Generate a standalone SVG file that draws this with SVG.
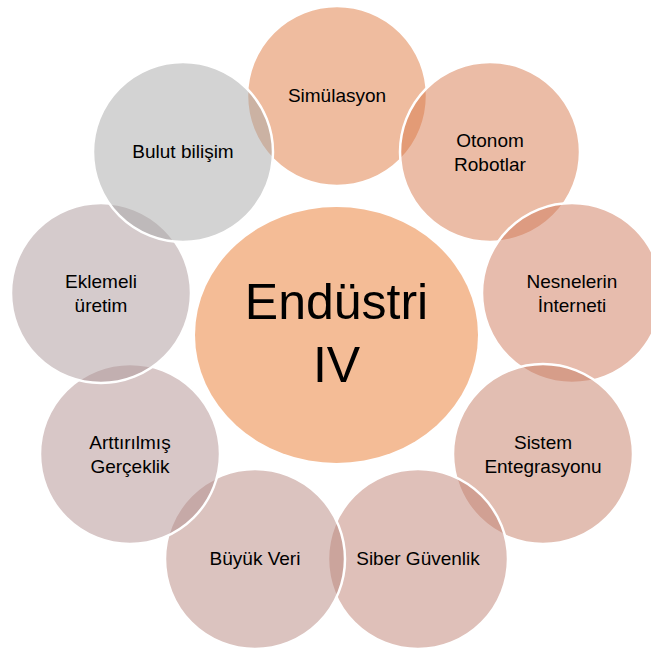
<svg xmlns="http://www.w3.org/2000/svg" width="651" height="651" viewBox="0 0 651 651">
<style>
.c{stroke:#FFFFFF;stroke-width:2.5;fill-opacity:0.5}
.t{font-family:"Liberation Sans",Arial,sans-serif;font-size:19px;fill:#000;text-anchor:middle}
.big{font-family:"Liberation Sans",Arial,sans-serif;font-size:50px;fill:#000;text-anchor:middle}
</style>
<rect width="651" height="651" fill="#FFFFFF"/>
<g id="center">
<ellipse cx="336.5" cy="335" rx="141.5" ry="128" fill="#F4BC96"/>
<text class="big" x="336.5" y="319">Endüstri</text>
<text class="big" x="336.5" y="382">IV</text>
</g>
<g id="simulasyon">
<circle class="c" cx="337" cy="96" r="90" fill="#DF793F"/>
<text class="t" x="337" y="102">Simülasyon</text>
</g>
<g id="otonom-robotlar">
<circle class="c" cx="490" cy="152" r="90" fill="#D7794D"/>
<text class="t" x="490" y="147">Otonom</text>
<text class="t" x="490" y="171">Robotlar</text>
</g>
<g id="nesnelerin-interneti">
<circle class="c" cx="572" cy="293" r="90" fill="#CF795B"/>
<text class="t" x="572" y="288">Nesnelerin</text>
<text class="t" x="572" y="312">İnterneti</text>
</g>
<g id="sistem-entegrasyonu">
<circle class="c" cx="543" cy="454" r="90" fill="#C57D65"/>
<text class="t" x="543" y="449">Sistem</text>
<text class="t" x="543" y="473">Entegrasyonu</text>
</g>
<g id="siber-guvenlik">
<circle class="c" cx="418" cy="559" r="90" fill="#BF8173"/>
<text class="t" x="418" y="565">Siber Güvenlik</text>
</g>
<g id="buyuk-veri">
<circle class="c" cx="255" cy="559" r="90" fill="#B7877F"/>
<text class="t" x="255" y="565">Büyük Veri</text>
</g>
<g id="arttirilmis-gerceklik">
<circle class="c" cx="130" cy="454" r="90" fill="#B18F8F"/>
<text class="t" x="130" y="449">Arttırılmış</text>
<text class="t" x="130" y="473">Gerçeklik</text>
</g>
<g id="eklemeli-uretim">
<circle class="c" cx="101" cy="293" r="90" fill="#AB9799"/>
<text class="t" x="101" y="288">Eklemeli</text>
<text class="t" x="101" y="312">üretim</text>
</g>
<g id="bulut-bilisim">
<circle class="c" cx="183" cy="152" r="90" fill="#A7A7A7"/>
<text class="t" x="183" y="158">Bulut bilişim</text>
</g>
<g id="connectors"></g>
</svg>
